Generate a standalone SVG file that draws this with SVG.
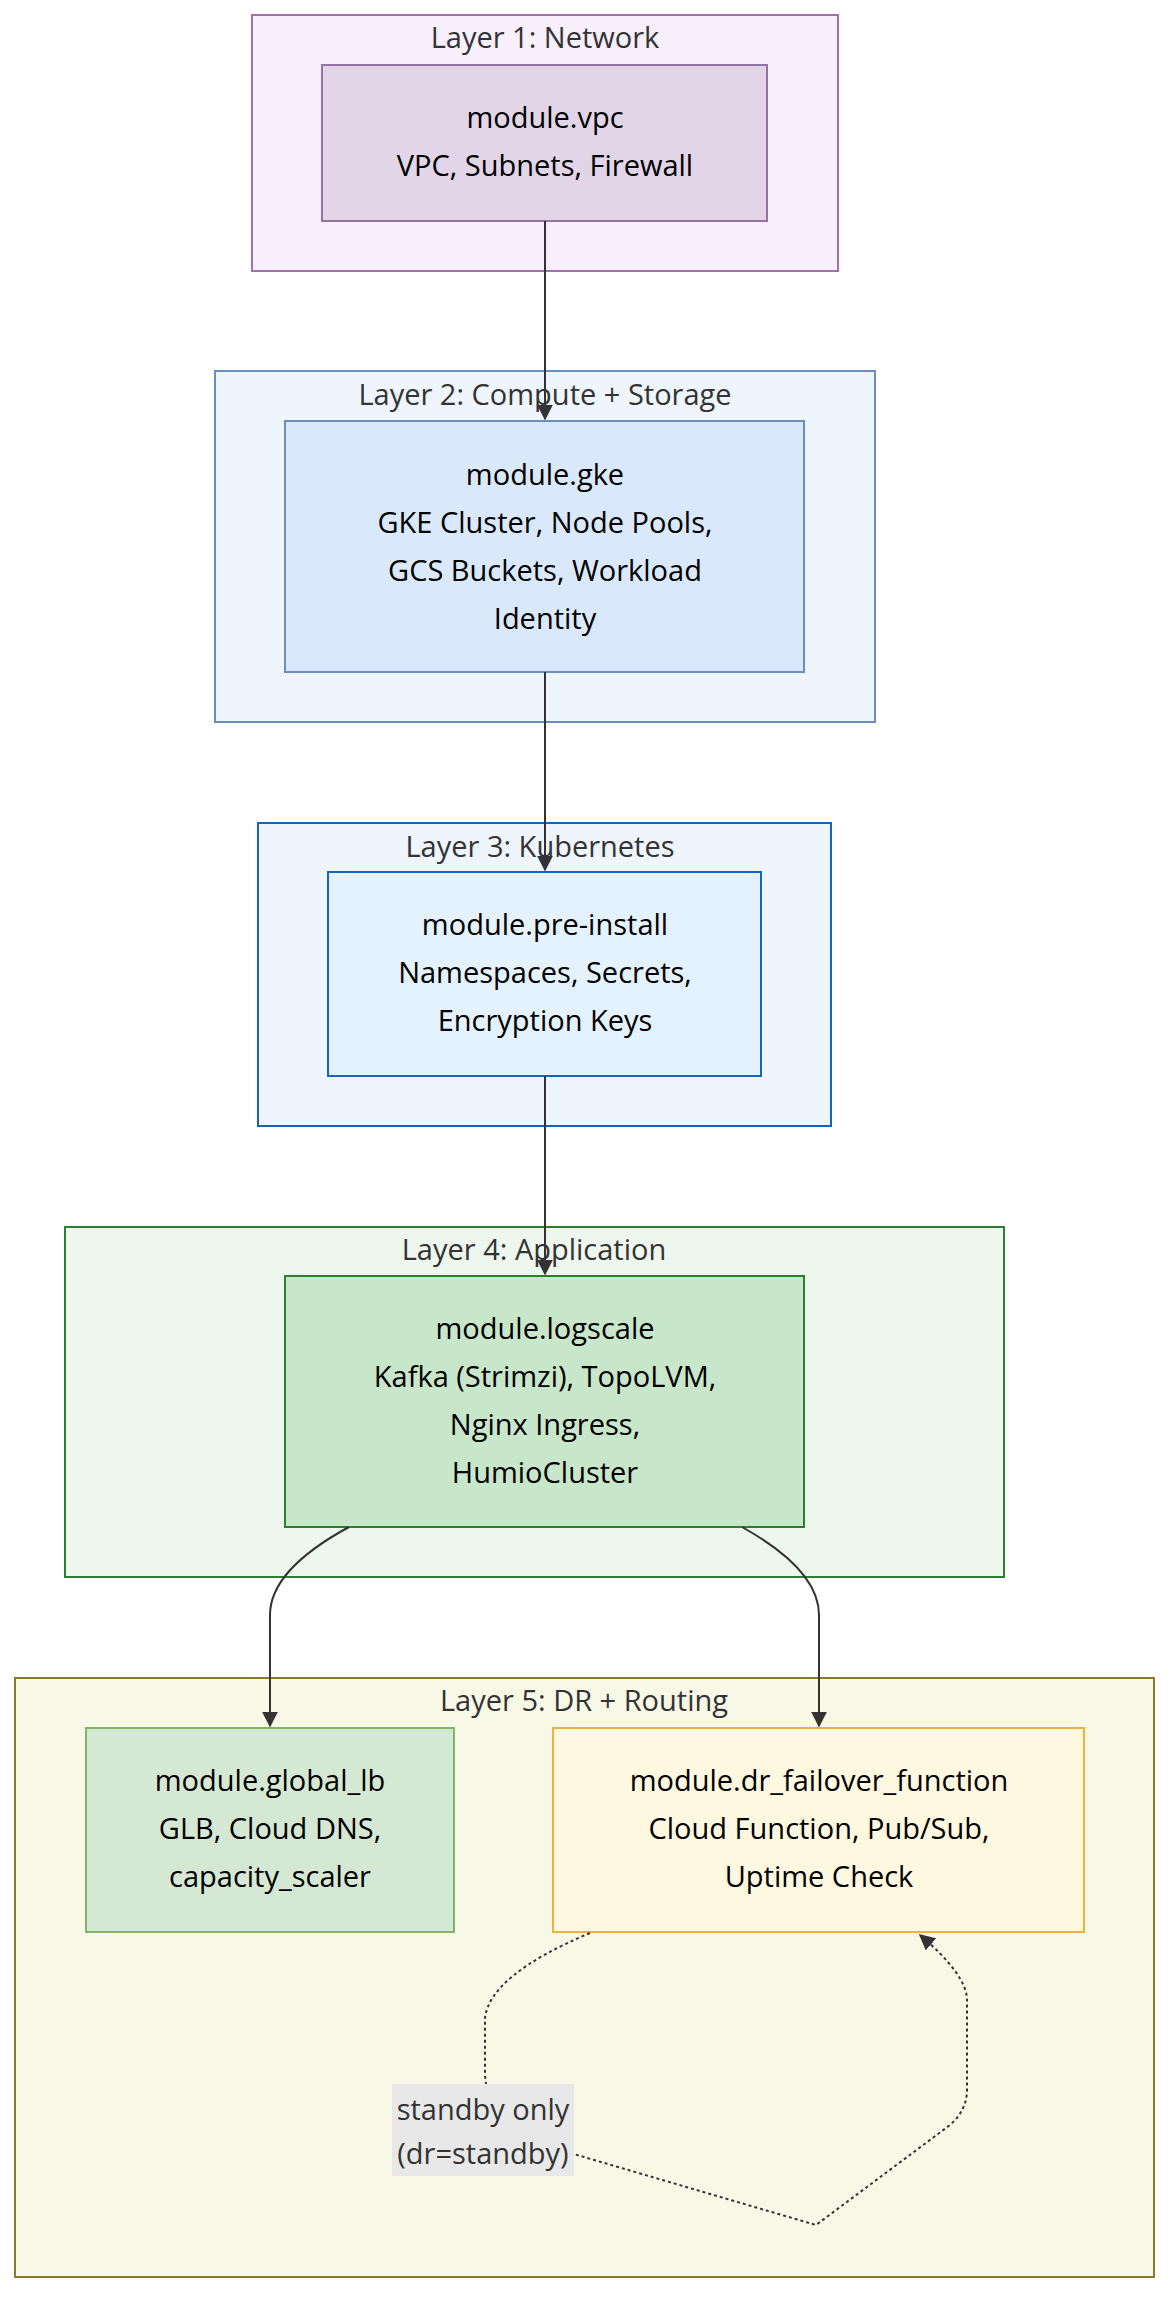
<svg xmlns="http://www.w3.org/2000/svg" width="1172" height="2298" viewBox="0 0 1172 2298">
<style>
text{font-family:"Open Sans","DejaVu Sans",sans-serif;text-anchor:middle;}
.t{font-size:29px;fill:#333}
.n{font-size:29px;fill:#000}
.e{fill:none;stroke:#333;stroke-width:2}
</style>
<defs><marker id="a" viewBox="0 0 10 10" refX="9" refY="5" markerWidth="8" markerHeight="8" orient="auto"><path d="M0,0L10,5L0,10z" fill="#333"/></marker></defs>
<rect width="1172" height="2298" fill="#fff"/>
<g id="layer1"><rect x="252" y="15" width="586" height="256" fill="#f8effc" stroke="#a070b0" stroke-width="2"/><text class="t" x="545" y="48">Layer 1: Network</text></g>
<g id="layer2"><rect x="215" y="371" width="660" height="351" fill="#eef5fd" stroke="#6c8ebf" stroke-width="2"/><text class="t" x="545" y="405">Layer 2: Compute + Storage</text></g>
<g id="layer3"><rect x="258" y="823" width="573" height="303" fill="#eef5fd" stroke="#1565c0" stroke-width="2"/><text class="t" x="540" y="857">Layer 3: Kubernetes</text></g>
<g id="layer4"><rect x="65" y="1227" width="939" height="350" fill="#edf7ee" stroke="#2e7d32" stroke-width="2"/><text class="t" x="534" y="1260">Layer 4: Application</text></g>
<g id="layer5"><rect x="15" y="1678" width="1139" height="599" fill="#f8f8e6" stroke="#8b7a2b" stroke-width="2"/><text class="t" x="584" y="1711">Layer 5: DR + Routing</text></g>
<g id="vpc"><rect x="322" y="65" width="445" height="156" fill="#e1d5e7" stroke="#9673a6" stroke-width="2"/><text class="n" x="545" y="128">module.vpc</text><text class="n" x="545" y="176">VPC, Subnets, Firewall</text></g>
<g id="gke"><rect x="285" y="421" width="519" height="251" fill="#dae8fc" stroke="#6c8ebf" stroke-width="2"/><text class="n" x="545" y="485">module.gke</text><text class="n" x="545" y="533">GKE Cluster, Node Pools,</text><text class="n" x="545" y="581">GCS Buckets, Workload</text><text class="n" x="545" y="629">Identity</text></g>
<g id="preinstall"><rect x="328" y="872" width="433" height="204" fill="#e3f2fd" stroke="#1565c0" stroke-width="2"/><text class="n" x="545" y="935">module.pre-install</text><text class="n" x="545" y="983">Namespaces, Secrets,</text><text class="n" x="545" y="1031">Encryption Keys</text></g>
<g id="logscale"><rect x="285" y="1276" width="519" height="251" fill="#c8e6c9" stroke="#2e7d32" stroke-width="2"/><text class="n" x="545" y="1339">module.logscale</text><text class="n" x="545" y="1387">Kafka (Strimzi), TopoLVM,</text><text class="n" x="545" y="1435">Nginx Ingress,</text><text class="n" x="545" y="1483">HumioCluster</text></g>
<g id="globallb"><rect x="86" y="1728" width="368" height="204" fill="#d5e8d4" stroke="#82b366" stroke-width="2"/><text class="n" x="270" y="1791">module.global_lb</text><text class="n" x="270" y="1839">GLB, Cloud DNS,</text><text class="n" x="270" y="1887">capacity_scaler</text></g>
<g id="drfailover"><rect x="553" y="1728" width="531" height="204" fill="#fff8e1" stroke="#f0b040" stroke-width="2"/><text class="n" x="819" y="1791">module.dr_failover_function</text><text class="n" x="819" y="1839">Cloud Function, Pub/Sub,</text><text class="n" x="819" y="1887">Uptime Check</text></g>
<g id="connectors">
<path class="e" d="M545,221V419" marker-end="url(#a)"/>
<path class="e" d="M545,672V870" marker-end="url(#a)"/>
<path class="e" d="M545,1076V1274" marker-end="url(#a)"/>
<path class="e" d="M349,1527Q270,1570 270,1615V1726" marker-end="url(#a)"/>
<path class="e" d="M742,1527Q819,1570 819,1615V1726" marker-end="url(#a)"/>
<path class="e" stroke-dasharray="3,3" d="M590,1933Q490,1975 485,2018V2075Q490,2140 560,2150L816,2225L950,2125Q967,2110 967,2090V2000Q967,1975 920,1935" marker-end="url(#a)"/>
<rect x="392" y="2084" width="182" height="92" fill="#e8e8e8"/>
<text class="t" x="483" y="2120">standby only</text><text class="t" x="483" y="2164">(dr=standby)</text>
</g>
</svg>
